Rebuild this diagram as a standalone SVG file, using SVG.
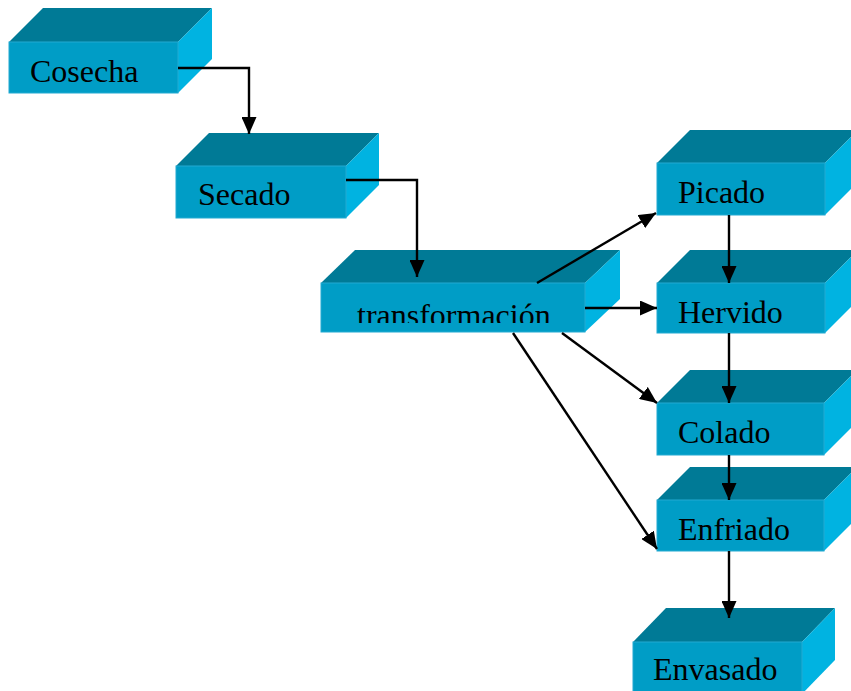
<svg xmlns="http://www.w3.org/2000/svg" width="851" height="691" viewBox="0 0 851 691">
  <defs>
    <style>
      .top { fill: #007A96; }
      .front { fill: #009DC6; stroke: #22AAD2; stroke-width: 1; }
      .right { fill: #00B3E1; }
      .label { font-family: "Liberation Serif", "Times New Roman", serif; font-size: 32px; fill: #000; }
      .conn { fill: none; stroke: #000; stroke-width: 2.4; marker-end: url(#arrow); }
    </style>
    <marker id="arrow" viewBox="0 0 17 15" refX="17" refY="7.5" markerWidth="17" markerHeight="15" markerUnits="userSpaceOnUse" orient="auto">
      <path d="M0,0 L17,7.5 L0,15 z" fill="#000"/>
    </marker>
    <clipPath id="clipTrans">
      <rect x="321" y="283" width="264" height="40"/>
    </clipPath>
  </defs>
  <rect width="851" height="691" fill="#fff"/>

  <g id="cosecha">
    <polygon class="top" points="9,42 43,8 212,8 178,42"/>
    <polygon class="right" points="178,42 212,8 212,59 178,93"/>
    <rect class="front" x="9" y="42" width="169" height="51"/>
    <text class="label" x="30" y="82">Cosecha</text>
  </g>

  <g id="secado">
    <polygon class="top" points="176,166 209,133 379,133 346,166"/>
    <polygon class="right" points="346,166 379,133 379,185 346,218"/>
    <rect class="front" x="176" y="166" width="170" height="52"/>
    <text class="label" x="198" y="205">Secado</text>
  </g>

  <g id="transformacion">
    <polygon class="top" points="321,283 355,250 620,250 585,283"/>
    <polygon class="right" points="585,283 620,250 620,299 585,332"/>
    <rect class="front" x="321" y="283" width="264" height="49"/>
    <text class="label" x="357" y="326" clip-path="url(#clipTrans)">transformación</text>
  </g>

  <g id="picado">
    <polygon class="top" points="657,163 690,130 858,130 825,163"/>
    <polygon class="right" points="825,163 858,130 858,182 825,215"/>
    <rect class="front" x="657" y="163" width="168" height="52"/>
    <text class="label" x="678" y="203">Picado</text>
  </g>

  <g id="hervido">
    <polygon class="top" points="657,283 690,250 858,250 825,283"/>
    <polygon class="right" points="825,283 858,250 858,300 825,333"/>
    <rect class="front" x="657" y="283" width="168" height="50"/>
    <text class="label" x="678" y="323">Hervido</text>
  </g>

  <g id="colado">
    <polygon class="top" points="657,403 690,370 857,370 824,403"/>
    <polygon class="right" points="824,403 857,370 857,422 824,455"/>
    <rect class="front" x="657" y="403" width="167" height="52"/>
    <text class="label" x="678" y="443">Colado</text>
  </g>

  <g id="enfriado">
    <polygon class="top" points="657,500 690,467 857,467 824,500"/>
    <polygon class="right" points="824,500 857,467 857,518 824,551"/>
    <rect class="front" x="657" y="500" width="167" height="51"/>
    <text class="label" x="678" y="540">Enfriado</text>
  </g>

  <g id="envasado">
    <polygon class="top" points="633,642 666,608 835,608 802,642"/>
    <polygon class="right" points="802,642 835,608 835,660 802,694"/>
    <rect class="front" x="633" y="642" width="169" height="52"/>
    <text class="label" x="653" y="680">Envasado</text>
  </g>

  <g id="connectors">
    <polyline class="conn" points="178,68 249,68 249,134"/>
    <polyline class="conn" points="346,180 417,180 417,277"/>
    <line class="conn" x1="537" y1="283" x2="656" y2="213"/>
    <line class="conn" x1="585" y1="308" x2="657" y2="308"/>
    <line class="conn" x1="562" y1="333" x2="657" y2="403"/>
    <line class="conn" x1="513" y1="333" x2="657" y2="549"/>
    <line class="conn" x1="729" y1="215" x2="729" y2="283"/>
    <line class="conn" x1="729" y1="333" x2="729" y2="403"/>
    <line class="conn" x1="729" y1="455" x2="729" y2="500"/>
    <line class="conn" x1="729" y1="551" x2="729" y2="618"/>
  </g>
</svg>
